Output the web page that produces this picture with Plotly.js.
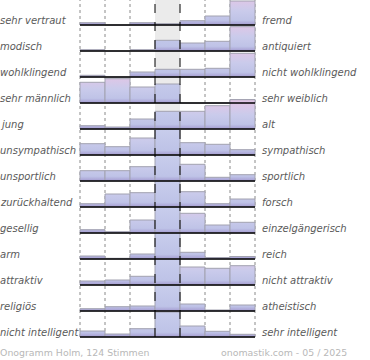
<!DOCTYPE html>
<html><head><meta charset="utf-8">
<script src="https://cdn.plot.ly/plotly-3.0.1.min.js"></script>
<style>html,body{margin:0;padding:0;background:#fff}#chart{width:370px;height:360px}</style>
</head><body><div id="chart"></div>
<script>
// Scale steps (7-point semantic differential)
const scaleSteps = [1, 2, 3, 4, 5, 6, 7];
const leftLabels = ['sehr vertraut', 'modisch', 'wohlklingend', 'sehr männlich', 'jung', 'unsympathisch', 'unsportlich', 'zurückhaltend', 'gesellig', 'arm', 'attraktiv', 'religiös', 'nicht intelligent'];
const rightLabels = ['fremd', 'antiquiert', 'nicht wohlklingend', 'sehr weiblich', 'alt', 'sympathisch', 'sportlich', 'forsch', 'einzelgängerisch', 'reich', 'nicht attraktiv', 'atheistisch', 'sehr intelligent'];

// Bar heights per row (estimated, relative units; 26 = one full row band)
const vertraut     = [2.3, 0, 2.3, 1.3, 4.3, 9, 24];
const modisch      = [1.3, 0, 1.3, 10.7, 8, 9.7, 24.3];
const wohlklingend = [1.7, 0, 5, 7.7, 7.7, 8.7, 23.7];
const maennlich    = [20.7, 24.3, 16, 19, 0, 0, 3.5];
const jung         = [3.3, 2, 10, 17.7, 17.7, 23.3, 29.3];
const unsympathisch= [11.3, 8.3, 17, 26, 12.3, 10.7, 5.3];
const unsportlich  = [10.3, 10.3, 14.3, 26, 16.7, 3.7, 6.3];
const zurueck      = [3.3, 13, 14.3, 26, 15.3, 3.3, 8];
const gesellig     = [3.3, 1.3, 13, 26, 19.7, 8, 10.7];
const arm          = [3, 0.7, 5, 26, 6.7, 1.5, 2.5];
const attraktiv    = [4, 5, 8.7, 26, 18, 16.7, 19.3];
const religioes    = [2.3, 4.3, 5, 26, 7, 1, 6];
const intelligent  = [6, 3, 8.3, 25, 11, 5.7, 2.7];

const footerLeft = 'Onogramm Holm, 124 Stimmen';
const footerRight = 'onomastik.com - 05 / 2025';

const rows = [vertraut, modisch, wohlklingend, maennlich, jung, unsympathisch, unsportlich, zurueck, gesellig, arm, attraktiv, religioes, intelligent];
const ROW = 26;
const n = rows.length;
const baseOf = k => n - 1 - k;

const traces = rows.map((vals, k) => ({
  type: 'bar', x: scaleSteps, y: vals.map(v => v / ROW), base: baseOf(k), width: 1,
  marker: {color: '#c4c6e8', line: {color: '#a2a2b0', width: 1}},
  hoverinfo: 'skip', showlegend: false
}));

const yTop = 337 / ROW;
const shapes = [];
shapes.push({type: 'rect', xref: 'x', yref: 'y', x0: 3.5, x1: 4.5, y0: 0, y1: yTop, fillcolor: '#ebebeb', line: {width: 0}, layer: 'below'});
[0.5, 1.5, 2.5, 5.5, 6.5, 7.5].forEach(x => shapes.push({type: 'line', xref: 'x', yref: 'y', x0: x, x1: x, y0: 0, y1: yTop, line: {color: '#8a8a8a', width: 1, dash: 'dot'}, layer: 'below'}));
[3.5, 4.5].forEach(x => shapes.push({type: 'line', xref: 'x', yref: 'y', x0: x, x1: x, y0: 0, y1: yTop, line: {color: '#000', width: 1, dash: 'dash'}, layer: 'above'}));
rows.forEach((v, k) => shapes.push({type: 'line', xref: 'x', yref: 'y', x0: 0.5, x1: 7.5, y0: baseOf(k), y1: baseOf(k), line: {color: '#000', width: 1.6}, layer: 'above'}));

const labelFont = {family: 'DejaVu Sans', size: 10, color: '#5a5a5a', style: 'italic'};
const annotations = [];
leftLabels.forEach((t, k) => annotations.push({text: t, xref: 'x', yref: 'y', x: -2.7, y: baseOf(k), xanchor: 'left', yanchor: 'middle', xshift: -2, yshift: 5, showarrow: false, font: labelFont}));
rightLabels.forEach((t, k) => annotations.push({text: t, xref: 'x', yref: 'y', x: 7.5, y: baseOf(k), xanchor: 'left', yanchor: 'middle', xshift: 5, yshift: 5, showarrow: false, font: labelFont}));
const footFont = {family: 'DejaVu Sans', size: 9.4, color: '#b8b8b8'};
annotations.push({text: footerLeft, xref: 'paper', yref: 'paper', x: 0, y: 0, xanchor: 'left', yanchor: 'middle', xshift: -2, yshift: -13, showarrow: false, font: footFont});
annotations.push({text: footerRight, xref: 'paper', yref: 'paper', x: 1, y: 0, xanchor: 'right', yanchor: 'middle', xshift: 92, yshift: -13, showarrow: false, font: footFont});

const layout = {
  width: 370, height: 360,
  margin: {l: 0, r: 113, t: 0, b: 21, pad: 0},
  paper_bgcolor: '#fff', plot_bgcolor: 'rgba(0,0,0,0)',
  barmode: 'overlay',
  xaxis: {range: [-2.7, 7.58], showgrid: false, zeroline: false, showticklabels: false, ticks: '', fixedrange: true},
  yaxis: {range: [yTop - 339 / ROW, yTop], showgrid: false, zeroline: false, showticklabels: false, ticks: '', fixedrange: true},
  shapes: shapes, annotations: annotations
};

Plotly.newPlot('chart', traces, layout, {staticPlot: true, displayModeBar: false}).then(gd => {
  const ya = gd._fullLayout.yaxis;
  const defs = gd.querySelector('.main-svg defs');
  const NS = 'http://www.w3.org/2000/svg';
  const sideStops = [[0, '#e0c6e6'], [0.45, '#cacbeb'], [0.82, '#bfc3e7'], [1, '#a49bd1']];
  const midStops = [[0, '#c8cdec'], [0.82, '#bec3e7'], [1, '#a49bd1']];
  const makeGrad = (id, k, stops) => {
    const g = document.createElementNS(NS, 'linearGradient');
    g.setAttribute('id', id);
    g.setAttribute('gradientUnits', 'userSpaceOnUse');
    g.setAttribute('x1', 0); g.setAttribute('x2', 0);
    g.setAttribute('y1', ya.c2p(baseOf(k) + 1)); g.setAttribute('y2', ya.c2p(baseOf(k)));
    stops.forEach(([o, c]) => {
      const s = document.createElementNS(NS, 'stop');
      s.setAttribute('offset', o); s.setAttribute('stop-color', c);
      g.appendChild(s);
    });
    defs.appendChild(g);
  };
  gd.querySelectorAll('.barlayer .trace').forEach((tr, k) => {
    makeGrad('sidegrad' + k, k, sideStops);
    makeGrad('midgrad' + k, k, midStops);
    tr.querySelectorAll('.point').forEach((pt, i) => {
      const d = pt.__data__;
      const pos = (d && d.p !== undefined) ? d.p : scaleSteps[i];
      const id = pos === 4 ? 'midgrad' : 'sidegrad';
      const path = pt.tagName.toLowerCase() === 'path' ? pt : pt.querySelector('path');
      if (path) path.style.fill = 'url(#' + id + k + ')';
    });
  });
});
</script></body></html>
